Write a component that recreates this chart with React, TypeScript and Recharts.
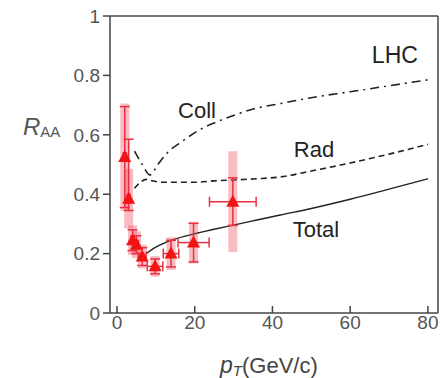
import React from "react";
import {
  ComposedChart,
  Line,
  Scatter,
  ErrorBar,
  XAxis,
  YAxis,
  ReferenceLine,
  ReferenceDot,
} from "recharts";

// theory curves (pT in GeV/c, RAA)
const collX = [4.5, 6.5, 8.5, 10.5, 13, 17, 21, 26, 31, 36, 42, 50, 60, 70, 80];
const collY = [0.545, 0.5, 0.465, 0.5, 0.54, 0.58, 0.615, 0.645, 0.67, 0.69, 0.705, 0.725, 0.745, 0.765, 0.785];

const radX = [4.5, 6, 7.5, 9, 12, 16, 20, 25, 30, 36, 42, 50, 60, 70, 80];
const radY = [0.42, 0.44, 0.45, 0.445, 0.44, 0.44, 0.44, 0.445, 0.448, 0.452, 0.458, 0.478, 0.505, 0.535, 0.568];

const totalX = [7.5, 10, 14, 20, 25, 30, 36, 42, 50, 60, 70, 80];
const totalY = [0.2, 0.222, 0.245, 0.267, 0.282, 0.296, 0.313, 0.33, 0.352, 0.383, 0.417, 0.452];

// measured points
const ptX = [2, 3, 4, 5, 6.5, 9.8, 13.9, 19.7, 29.8];
const ptY = [0.525, 0.385, 0.245, 0.23, 0.19, 0.157, 0.2, 0.237, 0.375];
const ptXErr = [0.4, 0.4, 0.4, 0.5, 1, 2, 2, 4, 6];
const ptYErr: (number | number[])[] = [0.17, [0.04, 0.2], 0.035, 0.03, 0.03, 0.025, 0.045, 0.065, 0.08];
const ptSys = [0.18, 0.1, 0.05, 0.045, 0.04, 0.035, 0.055, 0.07, 0.17];

const xTicks = [0, 20, 40, 60, 80];
const yTicks = [0, 0.2, 0.4, 0.6, 0.8, 1];

const toPts = (xs: number[], ys: number[]) => xs.map((x, i) => ({ x, y: ys[i] }));

const collData = toPts(collX, collY);
const radData = toPts(radX, radY);
const totalData = toPts(totalX, totalY);
const points = ptX.map((x, i) => ({ x, y: ptY[i], ex: ptXErr[i], ey: ptYErr[i], sys: ptSys[i] }));

const FONT = "'Liberation Sans', Arial, sans-serif";
const RED = "#f01414";

const Triangle = (props: any) => {
  const { cx, cy } = props;
  if (cx == null || cy == null) return null;
  return <path d={`M${cx},${cy - 7} L${cx + 6.5},${cy + 5} L${cx - 6.5},${cy + 5} Z`} fill={RED} />;
};

const tickStyle = { fontSize: 19, fill: "#555", fontFamily: FONT };
const labelStyle = { fontSize: 22, fill: "#222", fontFamily: FONT };

export default function App() {
  return (
    <div style={{ position: "absolute", left: 0, top: 0, background: "#fff" }}>
      <ComposedChart width={446} height={378} margin={{ top: 16, right: 8, bottom: 35, left: 0 }}>
        <XAxis
          type="number"
          dataKey="x"
          domain={[-1.8, 82.6]}
          ticks={xTicks}
          allowDataOverflow
          height={30}
          tickSize={-7}
          tickMargin={10}
          stroke="#444"
          strokeWidth={1.5}
          tick={tickStyle}
        />
        <YAxis
          type="number"
          dataKey="y"
          domain={[0, 1]}
          ticks={yTicks}
          width={110}
          tickSize={7}
          tickMargin={3}
          stroke="#444"
          strokeWidth={1.5}
          tick={tickStyle}
        />
        <ReferenceLine y={1} stroke="#444" strokeWidth={1.5} />
        <ReferenceLine x={82.6} stroke="#444" strokeWidth={1.5} />

        <Line data={collData} dataKey="y" type="monotone" stroke="#222" strokeWidth={1.6}
          strokeDasharray="9 5 2 5" dot={false} isAnimationActive={false} />
        <Line data={radData} dataKey="y" type="monotone" stroke="#222" strokeWidth={1.6}
          strokeDasharray="6 4" dot={false} isAnimationActive={false} />
        <Line data={totalData} dataKey="y" type="monotone" stroke="#222" strokeWidth={1.4}
          dot={false} isAnimationActive={false} />

        <Scatter data={points} dataKey="y" shape={<Triangle />} isAnimationActive={false}>
          <ErrorBar dataKey="sys" direction="y" width={0} stroke="rgba(238,80,95,0.38)" strokeWidth={9} />
          <ErrorBar dataKey="ey" direction="y" width={5} stroke="#e83040" strokeWidth={1.5} />
          <ErrorBar dataKey="ex" direction="x" width={5} stroke="#e83040" strokeWidth={1.5} />
        </Scatter>

        <ReferenceDot x={20.6} y={0.683} r={0} stroke="none" fill="none"
          label={{ value: "Coll", position: "center", style: labelStyle }} />
        <ReferenceDot x={50.7} y={0.552} r={0} stroke="none" fill="none"
          label={{ value: "Rad", position: "center", style: labelStyle }} />
        <ReferenceDot x={51.2} y={0.283} r={0} stroke="none" fill="none"
          label={{ value: "Total", position: "center", style: labelStyle }} />
        <ReferenceDot x={71.5} y={0.869} r={0} stroke="none" fill="none"
          label={{ value: "LHC", position: "center", style: { ...labelStyle, fontSize: 23 } }} />

        <text x={23} y={135} fontFamily={FONT} fill="#555">
          <tspan fontSize={24} fontStyle="italic">R</tspan>
          <tspan fontSize={15} dy={2}>AA</tspan>
        </text>
        <text x={220} y={373} fontFamily={FONT} fill="#444">
          <tspan fontSize={23} fontStyle="italic">p</tspan>
          <tspan fontSize={15} fontStyle="italic" dy={3}>T</tspan>
          <tspan fontSize={22} dy={-3}>(GeV/c)</tspan>
        </text>
      </ComposedChart>
    </div>
  );
}
